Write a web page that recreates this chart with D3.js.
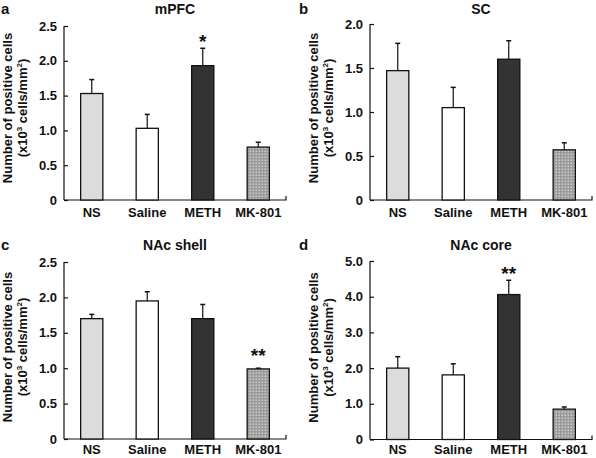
<!DOCTYPE html>
<html><head><meta charset="utf-8">
<script src="https://cdn.jsdelivr.net/npm/d3@7/dist/d3.min.js"></script>
<style>body{margin:0;background:#fff}svg{display:block;font-family:"Liberation Sans",Arial,sans-serif;font-weight:bold}</style>
</head><body><svg id="c" width="596" height="458"></svg>
<script>
const categories = ["NS", "Saline", "METH", "MK-801"];
const panelLetters = ["a", "b", "c", "d"];
const panelTitles = ["mPFC", "SC", "NAc shell", "NAc core"];
const mpfcMeans = [1.53, 1.03, 1.93, 0.76];
const mpfcErrors = [0.20, 0.20, 0.25, 0.07];
const scMeans = [1.47, 1.05, 1.60, 0.57];
const scErrors = [0.31, 0.23, 0.21, 0.08];
const shellMeans = [1.70, 1.95, 1.70, 0.99];
const shellErrors = [0.06, 0.13, 0.20, 0.01];
const coreMeans = [2.00, 1.81, 4.06, 0.85];
const coreErrors = [0.32, 0.31, 0.40, 0.06];
const mpfcStars = ["", "", "*", ""];
const scStars = ["", "", "", ""];
const shellStars = ["", "", "", "**"];
const coreStars = ["", "", "**", ""];
const yMaxes = [2.5, 2.0, 2.5, 5.0];
const mpfcTicks = [0, 0.5, 1.0, 1.5, 2.0, 2.5];
const scTicks = [0, 0.5, 1.0, 1.5, 2.0];
const shellTicks = [0, 0.5, 1.0, 1.5, 2.0, 2.5];
const coreTicks = [0, 1.0, 2.0, 3.0, 4.0, 5.0];

const svg = d3.select("#c");
const defs = svg.append("defs");
const pat = defs.append("pattern").attr("id","dots").attr("patternUnits","userSpaceOnUse").attr("width",3).attr("height",3);
pat.append("rect").attr("width",3).attr("height",3).attr("fill","#9a9a9a");
pat.append("rect").attr("x",0.5).attr("y",0.5).attr("width",1.5).attr("height",1.5).attr("fill","#cdcdcd");

const fills = ["#dcdcdc", "#ffffff", "#333333", "url(#dots)"];

const panels = [
  {means: mpfcMeans, errs: mpfcErrors, stars: mpfcStars, ticks: mpfcTicks, x0: 64, top: 26, bot: 200, ox: 0, oy: 0, pad: 8},
  {means: scMeans, errs: scErrors, stars: scStars, ticks: scTicks, x0: 370, top: 24, bot: 200, ox: 298, oy: 0, pad: 8},
  {means: shellMeans, errs: shellErrors, stars: shellStars, ticks: shellTicks, x0: 64, top: 262, bot: 439, ox: 0, oy: 236, pad: 5.5},
  {means: coreMeans, errs: coreErrors, stars: coreStars, ticks: coreTicks, x0: 370, top: 261, bot: 439.5, ox: 298, oy: 236, pad: 5}
];

const fmt = v => v === 0 ? "0" : d3.format(".1f")(v);

panels.forEach((p, i) => {
  const g = svg.append("g");
  const x1 = p.x0 + 222;
  const x = d3.scaleBand().domain(categories).range([p.x0, x1]).paddingInner(0.6).paddingOuter(0.3);
  const y = d3.scaleLinear().domain([0, yMaxes[i]]).range([p.bot, p.top]);

  const ya = g.append("g").attr("transform", `translate(${p.x0},0)`)
    .call(d3.axisLeft(y).tickValues(p.ticks).tickSize(-4).tickPadding(7).tickFormat(fmt));
  ya.select(".domain").remove();
  ya.selectAll(".tick line").attr("stroke","#111").attr("stroke-width",1.2);
  ya.selectAll(".tick text").attr("font-size",13).attr("font-weight","bold").attr("fill","#111")
    .attr("font-family","'Liberation Sans',Arial,sans-serif");
  g.append("line").attr("x1",p.x0).attr("x2",p.x0).attr("y1",y(yMaxes[i])).attr("y2",p.bot)
    .attr("stroke","#111").attr("stroke-width",1.2);

  const xa = g.append("g").attr("transform", `translate(0,${p.bot})`)
    .call(d3.axisBottom(x).tickSize(0).tickPadding(p.pad));
  xa.select(".domain").remove();
  xa.selectAll(".tick text").attr("font-size",13).attr("font-weight","bold").attr("fill","#111")
    .attr("font-family","'Liberation Sans',Arial,sans-serif");
  g.append("path").attr("d", `M${p.x0},${p.bot}H${x1}V${p.bot-4}`)
    .attr("fill","none").attr("stroke","#111").attr("stroke-width",1.2);

  const data = categories.map((c, k) => ({c, m: p.means[k], e: p.errs[k], s: p.stars[k], k}));
  data.forEach(d => {
    const cx = x(d.c) + x.bandwidth()/2;
    g.append("line").attr("x1",cx).attr("x2",cx).attr("y1",y(d.m)).attr("y2",y(d.m+d.e))
      .attr("stroke","#111").attr("stroke-width",1.2);
    g.append("line").attr("x1",cx-2.5).attr("x2",cx+2.5).attr("y1",y(d.m+d.e)).attr("y2",y(d.m+d.e))
      .attr("stroke","#111").attr("stroke-width",1.5);
    if (d.s) {
      g.append("text").attr("x",cx).attr("y",y(d.m+d.e) + (d.e < 0.03 ? -6 : 0))
        .attr("text-anchor","middle").attr("font-size",19).attr("fill","#111").text(d.s);
    }
  });
  g.selectAll("rect.bar").data(data).join("rect").attr("class","bar")
    .attr("x", d => x(d.c)).attr("width", x.bandwidth())
    .attr("y", d => y(d.m)).attr("height", d => p.bot - y(d.m))
    .attr("fill", d => fills[d.k]).attr("stroke","#111").attr("stroke-width",1.3);

  g.append("text").attr("x",(p.x0+x1)/2).attr("y",p.oy+13.5).attr("text-anchor","middle")
    .attr("font-size",14).attr("fill","#111").text(panelTitles[i]);
  g.append("text").attr("x",p.ox+1).attr("y",p.oy+14).attr("font-size",15).attr("fill","#111").text(panelLetters[i]);

  const lab = g.append("text").attr("transform",`translate(${p.x0-52},${p.bot-92}) rotate(-90)`)
    .attr("text-anchor","middle").attr("font-size",13).attr("fill","#111");
  lab.append("tspan").attr("x",0).attr("y",0).text("Number of positive cells");
  const l2 = g.append("text").attr("transform",`translate(${p.x0-37},${p.bot-92}) rotate(-90)`)
    .attr("text-anchor","middle").attr("font-size",13).attr("fill","#111");
  l2.append("tspan").text("(x10");
  l2.append("tspan").attr("font-size",8).attr("dy",-5).text("3");
  l2.append("tspan").attr("dy",5).text(" cells/mm");
  l2.append("tspan").attr("font-size",8).attr("dy",-5).text("2");
  l2.append("tspan").attr("dy",5).text(")");
});
</script></body></html>
